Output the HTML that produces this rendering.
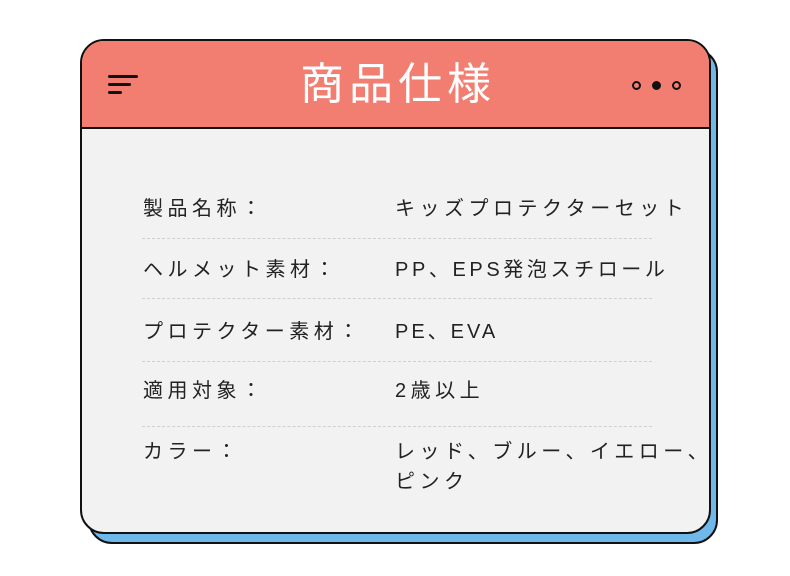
<!DOCTYPE html>
<html><head><meta charset="utf-8"><style>
*{margin:0;padding:0;box-sizing:border-box}
body{width:790px;height:576px;background:#fff;position:relative;overflow:hidden;font-family:"Liberation Sans","Noto Sans CJK JP",sans-serif}
.sh{position:absolute;left:88px;top:48px;width:630px;height:496px;background:#6fb8ea;border:2px solid #111;border-radius:24px}
.card{position:absolute;left:80px;top:39px;width:631px;height:495px;background:#f2f2f2;border:2px solid #111;border-radius:24px;overflow:hidden}
.hd{position:absolute;left:0;top:0;width:100%;height:88px;background:#f27e72;border-bottom:2px solid #111}
.t{position:absolute;left:0;width:100%;top:18px;text-align:center;color:#fff;font-size:44px;letter-spacing:5px;text-indent:5px;line-height:52px}
.hb{position:absolute;left:26px;height:3px;background:#111;border-radius:2px}
.dot{position:absolute;top:40px;width:9px;height:9px;border-radius:50%;border:2px solid #111}
.r{position:absolute;font-size:20px;color:#222;letter-spacing:4.5px;line-height:30px;white-space:nowrap}
.d{position:absolute;left:60px;width:510px;border-top:1px dashed #d0d0d0}
</style></head><body>
<div class="sh"></div>
<div class="card">
<div class="hd">
<div class="t">商品仕様</div>
<div class="hb" style="top:34px;width:30px"></div>
<div class="hb" style="top:42px;width:23px"></div>
<div class="hb" style="top:50px;width:14px"></div>
<div class="dot" style="left:550px"></div>
<div class="dot" style="left:570px;background:#111"></div>
<div class="dot" style="left:590px"></div>
</div>
<div class="r" style="left:61px;top:153px">製品名称：</div>
<div class="r" style="left:313px;top:153px">キッズプロテクターセット</div>
<div class="d" style="top:197px"></div>
<div class="r" style="left:61px;top:214px">ヘルメット素材：</div>
<div class="r" style="left:313px;top:214px;letter-spacing:3.6px">PP、EPS発泡スチロール</div>
<div class="d" style="top:257px"></div>
<div class="r" style="left:61px;top:276px">プロテクター素材：</div>
<div class="r" style="left:313px;top:276px;letter-spacing:3px">PE、EVA</div>
<div class="d" style="top:320px"></div>
<div class="r" style="left:61px;top:335px">適用対象：</div>
<div class="r" style="left:313px;top:335px">2歳以上</div>
<div class="d" style="top:385px"></div>
<div class="r" style="left:61px;top:396px">カラー：</div>
<div class="r" style="left:313px;top:396px">レッド、ブルー、イエロー、<br>ピンク</div>
</div>
</body></html>
